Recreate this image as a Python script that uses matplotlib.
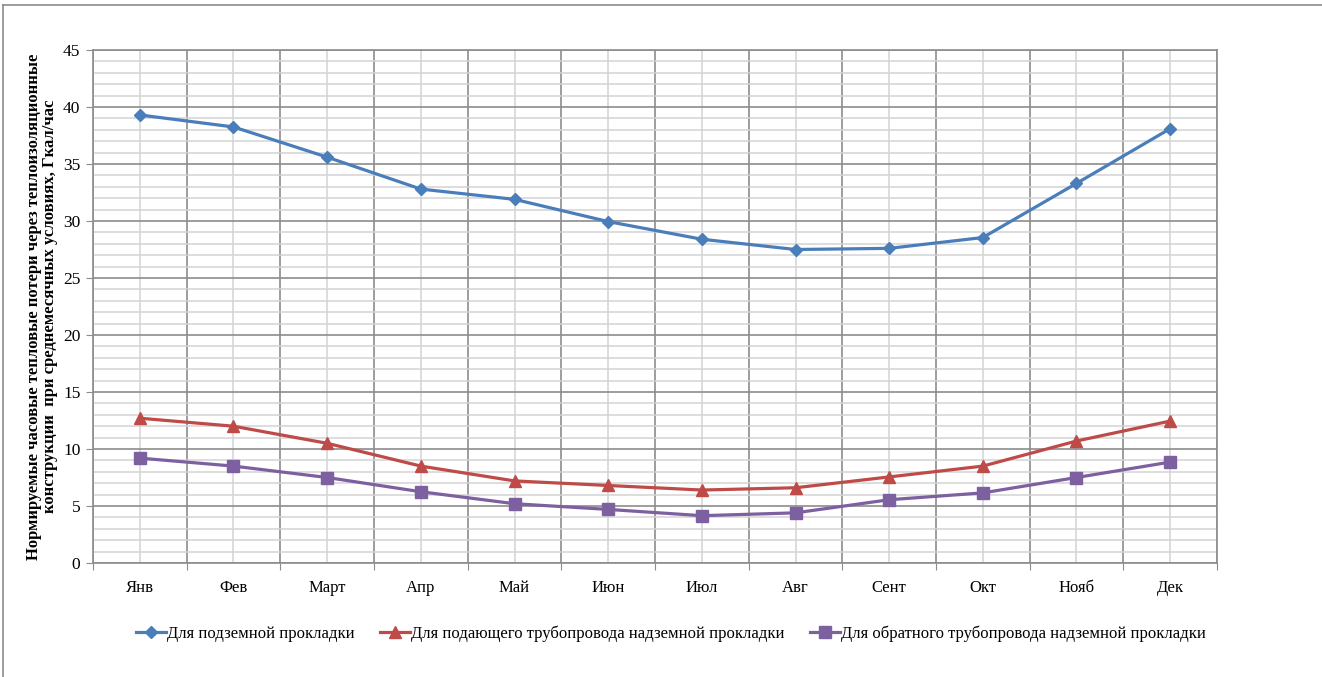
import numpy as np
import matplotlib
matplotlib.use("Agg")
from matplotlib import pyplot as plt
from matplotlib.lines import Line2D

months = ["Янв", "Фев", "Март", "Апр", "Май", "Июн", "Июл", "Авг", "Сент", "Окт", "Нояб", "Дек"]
underground = [39.3, 38.25, 35.6, 32.8, 31.9, 29.95, 28.4, 27.5, 27.6, 28.55, 33.3, 38.1]
supply_above = [12.7, 12.0, 10.5, 8.5, 7.2, 6.8, 6.4, 6.6, 7.55, 8.5, 10.7, 12.45]
return_above = [9.2, 8.5, 7.5, 6.25, 5.2, 4.7, 4.15, 4.4, 5.55, 6.15, 7.5, 8.85]
labels = ["Для подземной прокладки",
          "Для подающего трубопровода надземной прокладки",
          "Для обратного трубопровода надземной прокладки"]
ylabel = ("Нормируемые часовые тепловые потери через теплоизоляционные\n"
          "конструкции  при среднемесячных условиях, Гкал/час")

plt.rcParams['font.family'] = ['Liberation Serif', 'DejaVu Serif']

fig = plt.figure(figsize=(13.22, 6.77), dpi=100)
ax = fig.add_axes([93/1322, 1-563/677, (1217-93)/1322, (563-50)/677])

x = np.arange(len(months))
ax.plot(x, underground, color="#4A7EBB", lw=2.3, marker="D", ms=6.5, label=labels[0], zorder=5)
ax.plot(x, supply_above, color="#BE4B48", lw=2.3, marker="^", ms=8.5, label=labels[1], zorder=5)
ax.plot(x, return_above, color="#7D60A0", lw=2.3, marker="s", ms=8, label=labels[2], zorder=5)

ax.set_xlim(-0.5, len(months)-0.5)
ax.set_ylim(0, 45)

# сетка
ax.set_yticks(np.arange(0, 46, 5))
ax.set_yticks(np.arange(0, 46, 1), minor=True)
ax.set_xticks(np.arange(-0.5, len(months), 1))
ax.set_xticks(x, minor=True)
ax.set_xticklabels([""]*len(ax.get_xticks()))
ax.set_xticklabels(months, minor=True)
ax.grid(which="major", color="#8c8c8c", lw=1.2)
ax.grid(which="minor", color="#d3d3d3", lw=1.1)
ax.set_axisbelow(True)

ax.tick_params(axis="y", which="major", length=5, color="#8c8c8c", labelsize=12.5, pad=4)
ax.tick_params(axis="y", which="minor", length=0)
ax.tick_params(axis="x", which="major", length=5, color="#8c8c8c")
ax.tick_params(axis="x", which="minor", length=0, labelsize=12, pad=12)
for s in ax.spines.values():
    s.set_color("#8c8c8c")
    s.set_linewidth(1.2)

ax.set_ylabel(ylabel, fontsize=12, fontweight="bold", labelpad=4, linespacing=1.0)

fig.legend(loc="center", bbox_to_anchor=(671/1322, 1-634/677), ncol=3, frameon=False,
           fontsize=12, handlelength=1.8, columnspacing=1.5, handletextpad=0.08)

# рамка диаграммы
fig.add_artist(Line2D([3/1322, 3/1322], [0, 1-5/677], color="#8c8c8c", lw=1.2))
fig.add_artist(Line2D([3/1322, 1], [1-5/677, 1-5/677], color="#8c8c8c", lw=1.2))

fig.savefig("out.png", dpi=100)
